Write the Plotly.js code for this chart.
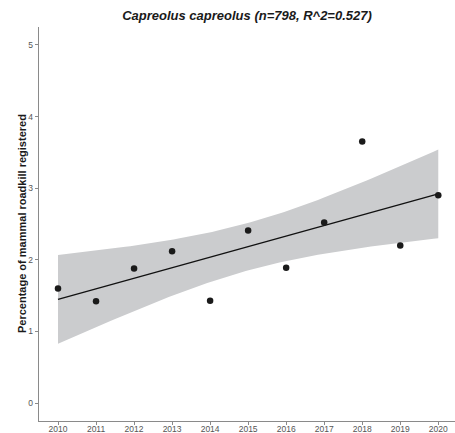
<!DOCTYPE html>
<html>
<head>
<meta charset="utf-8">
<script src="https://cdn.plot.ly/plotly-3.0.1.min.js"></script>
<style>
  html, body { margin: 0; padding: 0; background: #fff; }
  #chart { width: 455px; height: 433px; }
</style>
</head>
<body>
<div id="chart"></div>
<script>
// Yearly share of mammal roadkill records for roe deer
const years = [2010, 2011, 2012, 2013, 2014, 2015, 2016, 2017, 2018, 2019, 2020];
const percent = [1.60, 1.42, 1.88, 2.12, 1.43, 2.41, 1.89, 2.52, 3.65, 2.20, 2.90];
const yTicks = [0, 1, 2, 3, 4, 5];
const titleText = 'Capreolus capreolus (n=798, R^2=0.527)';
const yTitleText = 'Percentage of mammal roadkill registered';

// Ordinary least squares fit with a 95% confidence band for the mean
function linearFit(xs, ys) {
  const n = xs.length;
  const mx = xs.reduce((a, b) => a + b, 0) / n;
  const my = ys.reduce((a, b) => a + b, 0) / n;
  let sxx = 0, sxy = 0;
  for (let i = 0; i < n; i++) {
    sxx += (xs[i] - mx) ** 2;
    sxy += (xs[i] - mx) * (ys[i] - my);
  }
  const slope = sxy / sxx;
  const intercept = my - slope * mx;
  let sse = 0;
  for (let i = 0; i < n; i++) sse += (ys[i] - (intercept + slope * xs[i])) ** 2;
  const s = Math.sqrt(sse / (n - 2));
  return { n, mx, sxx, slope, intercept, s };
}

const fit = linearFit(years, percent);
const tCrit = 2.262; // t(0.975, df = 9)
const gridX = [], fitY = [], lowY = [], highY = [];
const steps = 80;
const x0 = Math.min(...years), x1 = Math.max(...years);
for (let k = 0; k < steps; k++) {
  const x = x0 + (x1 - x0) * k / (steps - 1);
  const yhat = fit.intercept + fit.slope * x;
  const se = fit.s * Math.sqrt(1 / fit.n + (x - fit.mx) ** 2 / fit.sxx);
  gridX.push(x);
  fitY.push(yhat);
  lowY.push(yhat - tCrit * se);
  highY.push(yhat + tCrit * se);
}

const traces = [
  {
    x: gridX.concat(gridX.slice().reverse()),
    y: highY.concat(lowY.slice().reverse()),
    type: 'scatter', mode: 'lines',
    fill: 'toself', fillcolor: 'rgb(203,204,206)',
    line: { width: 0, color: 'rgba(0,0,0,0)' },
    hoverinfo: 'skip', showlegend: false
  },
  {
    x: gridX, y: fitY,
    type: 'scatter', mode: 'lines',
    line: { color: '#111111', width: 1.3 },
    showlegend: false
  },
  {
    x: years, y: percent,
    type: 'scatter', mode: 'markers',
    marker: { color: '#1a1a1a', size: 6.5 },
    showlegend: false
  }
];

const fontFamily = 'Liberation Sans, Arial, sans-serif';
const axisCommon = {
  showgrid: false, zeroline: false,
  showline: true, linecolor: '#8a8a8a', linewidth: 1.2,
  ticks: 'outside', ticklen: 3, tickwidth: 1, tickcolor: '#8a8a8a',
  tickfont: { family: fontFamily, size: 8.5, color: '#555555' }
};

const layout = {
  width: 455, height: 433,
  margin: { l: 39, r: 0, t: 27, b: 12 },
  paper_bgcolor: '#ffffff', plot_bgcolor: '#ffffff',
  title: {
    text: '<b><i>' + titleText + '</i></b>',
    font: { family: fontFamily, size: 13, color: '#1a1a1a' },
    x: 0.5, xref: 'paper', xanchor: 'center',
    y: 1 - 15 / 433, yref: 'container', yanchor: 'middle'
  },
  xaxis: Object.assign({}, axisCommon, {
    range: [2009.5, 2020.44],
    tickmode: 'array', tickvals: years, ticktext: years.map(String),
    ticklabelstandoff: -3
  }),
  yaxis: Object.assign({}, axisCommon, {
    range: [-0.25, 5.25],
    tickmode: 'array', tickvals: yTicks, ticktext: yTicks.map(String)
  }),
  annotations: [{
    text: '<b>' + yTitleText + '</b>',
    font: { family: fontFamily, size: 11, color: '#1a1a1a' },
    textangle: -90,
    xref: 'paper', x: 0, xanchor: 'center', xshift: -17,
    yref: 'paper', y: 0.5, yanchor: 'middle',
    showarrow: false
  }]
};

Plotly.newPlot('chart', traces, layout, { displayModeBar: false, staticPlot: true });
</script>
</body>
</html>
